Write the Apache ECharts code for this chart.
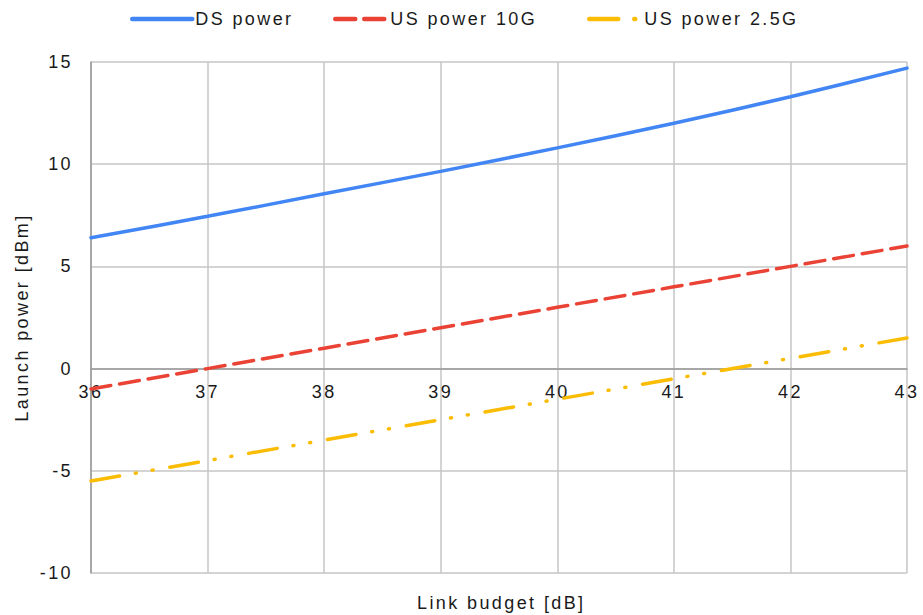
<!DOCTYPE html>
<html>
<head>
<meta charset="utf-8">
<script src="https://cdn.jsdelivr.net/npm/echarts@6/dist/echarts.min.js"></script>
<style>
html,body{margin:0;padding:0;background:#fff;}
#chart{width:923px;height:615px;letter-spacing:2.4px;}
</style>
</head>
<body>
<div id="chart"></div>
<script>
// Data
var linkBudget = [36, 37, 38, 39, 40, 41, 42, 43];
var dsPower = [6.4, 7.45, 8.55, 9.65, 10.8, 12.0, 13.3, 14.7];
var usPower10G = [-1, 0, 1, 2, 3, 4, 5, 6];
var usPower25G = [-5.5, -4.5, -3.5, -2.5, -1.5, -0.5, 0.5, 1.5];
var seriesNames = ['DS power', 'US power 10G', 'US power 2.5G'];
var xTitle = 'Link budget [dB]';
var yTitle = 'Launch power [dBm]';
var yMin = -10, yMax = 15, yStep = 5;
var xMin = 36, xMax = 43, xStep = 1;

function pairs(ys) { return linkBudget.map(function (x, i) { return [x, ys[i]]; }); }

var FONT = 'Liberation Sans, Arial, sans-serif';
var textBase = { fontFamily: FONT, fontSize: 18, color: '#1a1a1a' };

var GRID_TOP = 62, GRID_BOTTOM = 42, H = 615;
var plotH = H - GRID_TOP - GRID_BOTTOM;
// shift the x axis (line + labels) from the grid bottom up to the y = 0 level
var zeroOffset = -plotH * (0 - yMin) / (yMax - yMin);

var chart = echarts.init(document.getElementById('chart'), null, { renderer: 'svg' });

function legendAt(left, name, w) {
  return {
    show: true, left: left, top: 5, data: [name], itemWidth: w, itemHeight: 14,
    itemGap: 0, textStyle: Object.assign({}, textBase, { padding: [0, 0, 0, -2] }),
    itemStyle: { opacity: 0 },
    lineStyle: { width: 4.5 },
    selectedMode: false
  };
}

var option = {
  animation: false,
  backgroundColor: '#ffffff',
  title: {
    text: xTitle, left: 412, top: 589,
    textStyle: Object.assign({}, textBase, { fontWeight: 'normal' })
  },
  legend: [
    legendAt(125, seriesNames[0], 60),
    legendAt(328, seriesNames[1], 52),
    legendAt(582, seriesNames[2], 52)
  ],
  grid: { left: 91, right: 16, top: GRID_TOP, bottom: GRID_BOTTOM, containLabel: false },
  xAxis: {
    type: 'value', min: xMin, max: xMax, interval: xStep,
    offset: zeroOffset,
    axisLine: { show: true, onZero: false, lineStyle: { color: '#999999', width: 1.5 } },
    axisTick: { show: false },
    axisLabel: Object.assign({}, textBase, { margin: 14 }),
    splitLine: { show: true, lineStyle: { color: '#c6c6c6', width: 1.5 } }
  },
  yAxis: {
    type: 'value', min: yMin, max: yMax, interval: yStep,
    name: yTitle, nameLocation: 'middle', nameGap: 60, nameRotate: 90,
    nameTextStyle: textBase,
    axisLine: { show: true, onZero: false, lineStyle: { color: '#999999', width: 1.5 } },
    axisTick: { show: false },
    axisLabel: Object.assign({}, textBase, { margin: 18 }),
    splitLine: { show: true, lineStyle: { color: '#c6c6c6', width: 1.5 } }
  },
  series: [
    {
      name: seriesNames[0], type: 'line', data: pairs(dsPower), smooth: 0.3,
      showSymbol: false, symbol: 'none', color: '#4285F4',
      lineStyle: { color: '#4285F4', width: 3.5, cap: 'round' }
    },
    {
      name: seriesNames[1], type: 'line', data: pairs(usPower10G),
      showSymbol: false, symbol: 'none', color: '#EA4335',
      lineStyle: { color: '#EA4335', width: 3.5, type: [20, 9], dashOffset: 0, cap: 'round' }
    },
    {
      name: seriesNames[2], type: 'line', data: pairs(usPower25G),
      showSymbol: false, symbol: 'none', color: '#FBBC04',
      lineStyle: { color: '#FBBC04', width: 3.5, type: [29, 16, 1, 16, 1, 17], cap: 'round' }
    }
  ]
};
chart.setOption(option);
</script>
</body>
</html>
